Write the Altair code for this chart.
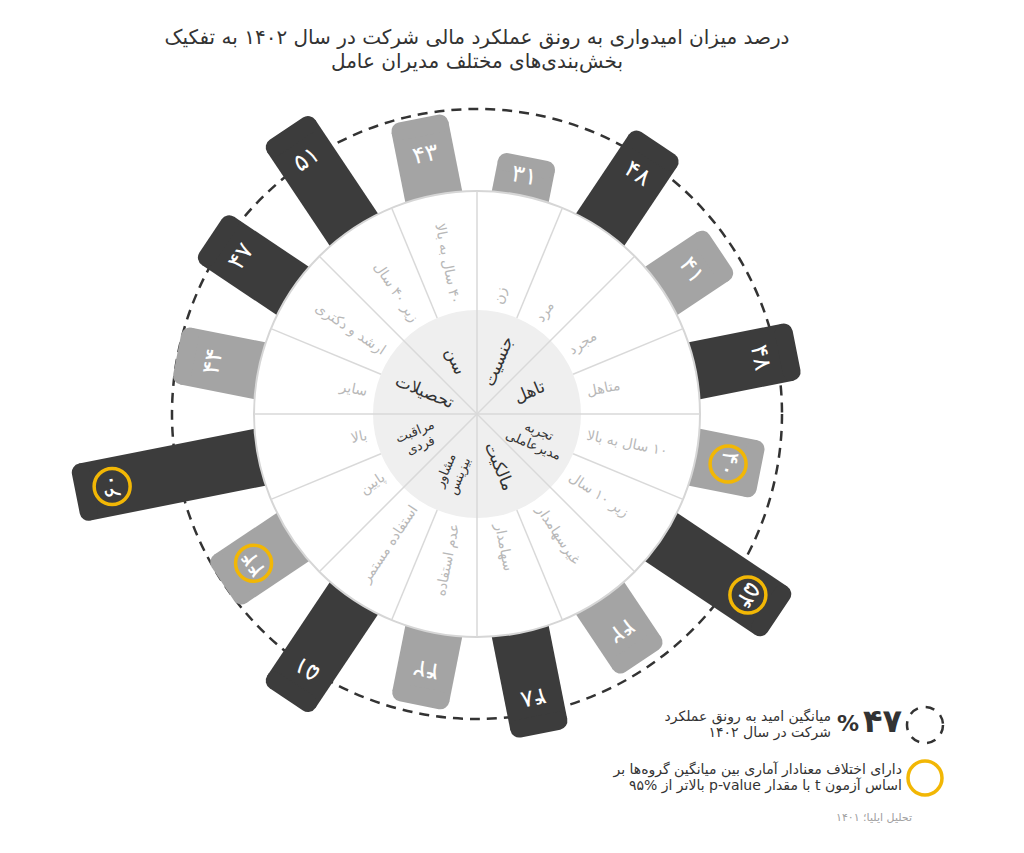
import altair as alt
import pandas as pd

# ---------------- data ----------------
categories = ["زن", "مرد", "مجرد", "متاهل", "۱۰ سال به بالا", "زیر ۱۰ سال",
              "غیرسهامدار", "سهامدار", "عدم استفاده", "استفاده مستمر",
              "پایین", "بالا", "سایر", "ارشد و دکتری", "زیر ۴۰ سال", "۴۰ سال به بالا"]
groups = ["جنسیت", "تاهل", "تجربه\nمدیرعاملی", "مالکیت",
          "مشاور\nبیزینس", "مراقبت\nفردی", "تحصیلات", "سن"]
values = [31, 48, 41, 48, 40, 54, 42, 48, 42, 51, 44, 60, 44, 47, 51, 43]
significant = [False, False, False, False, True, True, False, False,
               False, False, True, True, False, False, False, False]
MEAN = 47

title_lines = ["درصد میزان امیدواری به رونق عملکرد مالی شرکت در سال ۱۴۰۲ به تفکیک",
               "بخش‌بندی‌های مختلف مدیران عامل"]
legend_mean_lines = ["میانگین امید به رونق عملکرد", "شرکت در سال ۱۴۰۲"]
legend_sig_lines = ["دارای اختلاف معنادار آماری بین میانگین گروه‌ها بر",
                    "اساس آزمون t با مقدار p-value بالاتر از %۹۵"]
source_text = "تحلیل ایلیا؛ ۱۴۰۱"

FA = str.maketrans("0123456789", "۰۱۲۳۴۵۶۷۸۹")


def rtl(s):
    return "\u202b" + s + "\u202c"


# ---------------- layout / style ----------------
W, H = 1008, 837
CX, CY = 469, 406
R_IN, R_RING, R_MEAN = 104, 223, 305
BAR_W, RC = 58, 9
L0, L1 = 39, 186          # bar length beyond ring for min / max value (pow-3 scale)
FONT = "DejaVu Sans"
DARK, LIGHT, YELLOW = "#3c3c3c", "#a4a4a4", "#f2b705"
GROUP_LH = 15

N = len(categories)
STEP = 360 / N
V0, V1 = min(values), max(values)

bars = pd.DataFrame({
    "idx": list(range(N)),
    "cat": [rtl(c) for c in categories],
    "value": values,
    "sig": significant,
    "group": [i // 2 for i in range(N)],
})
gmax = bars.groupby("group")["value"].transform("max")
bars["shade"] = ["dark" if v == m else "light" for v, m in zip(bars["value"], gmax)]
bars["label"] = [str(v).translate(FA) for v in values]

grp = pd.DataFrame({
    "gidx": list(range(len(groups))),
    "g": [rtl(g) for g in groups],
    "nl": [g.count("\n") for g in groups],
    "fs": [13 if "\n" in g else 17 for g in groups],
    "gr": [64 if "\n" in g else 57 for g in groups],
})
divs = pd.DataFrame({"k": list(range(N))})
center = pd.DataFrame({"x": [CX], "y": [CY]})

xs = alt.Scale(domain=[0, W], nice=False, zero=False)
ys = alt.Scale(domain=[0, H], nice=False, zero=False, reverse=True)


def X(f):
    return alt.X(f, type="quantitative", scale=xs, axis=None)


def Y(f):
    return alt.Y(f, type="quantitative", scale=ys, axis=None)


shade_color = alt.Color("shade:N", scale=alt.Scale(domain=["dark", "light"], range=[DARK, LIGHT]), legend=None)

rout = (f"{R_RING} + {L0} + {L1 - L0} * (pow(datum.value, 3) - {V0 ** 3}) / {V1 ** 3 - V0 ** 3}")

bar_base = alt.Chart(bars).transform_calculate(
    theta=f"(datum.idx + 0.5) * {STEP}",
).transform_calculate(
    rad="datum.theta * PI / 180",
    rout=rout,
).transform_calculate(
    s="sin(datum.rad)", c="cos(datum.rad)",
    re=f"datum.rout - {RC}",
).transform_calculate(
    bx1=f"{CX} + 200 * datum.s", by1=f"{CY} - 200 * datum.c",
    bx2=f"{CX} + datum.re * datum.s", by2=f"{CY} - datum.re * datum.c",
    ax=f"{CX} + datum.re * datum.s + {BAR_W / 2 - RC} * datum.c",
    ay=f"{CY} - datum.re * datum.c + {BAR_W / 2 - RC} * datum.s",
    cx2=f"{CX} + datum.re * datum.s - {BAR_W / 2 - RC} * datum.c",
    cy2=f"{CY} - datum.re * datum.c - {BAR_W / 2 - RC} * datum.s",
    rt=f"max(({R_RING} + datum.rout) / 2, datum.rout - 37)",
    lx=f"{CX} + 112 * datum.s", ly=f"{CY} - 112 * datum.c",
    langle="datum.theta < 180 ? (datum.theta + 270) % 360 : (datum.theta + 90) % 360",
).transform_calculate(
    tx=f"{CX} + datum.rt * datum.s", ty=f"{CY} - datum.rt * datum.c",
)

mean_ring = alt.Chart(center).mark_point(
    shape="circle", size=(2 * R_MEAN) ** 2, filled=False, stroke="#333333",
    strokeWidth=2.5, strokeDash=[10, 7], opacity=1
).encode(x=X("x"), y=Y("y"))

bar_body = bar_base.mark_rule(strokeWidth=BAR_W, strokeCap="butt").encode(
    x=X("bx1"), y=Y("by1"), x2=alt.X2("bx2"), y2=alt.Y2("by2"), color=shade_color)

bar_cap = bar_base.mark_rule(strokeWidth=2 * RC, strokeCap="round").encode(
    x=X("ax"), y=Y("ay"), x2=alt.X2("cx2"), y2=alt.Y2("cy2"), color=shade_color)

ring = alt.Chart(center).mark_point(
    shape="circle", size=(2 * R_RING) ** 2, filled=True, fill="white",
    stroke="#d6d6d6", strokeWidth=2, opacity=1
).encode(x=X("x"), y=Y("y"))

inner = alt.Chart(center).mark_point(
    shape="circle", size=(2 * R_IN) ** 2, filled=True, fill="#efefef",
    strokeWidth=0, opacity=1
).encode(x=X("x"), y=Y("y"))

dividers = alt.Chart(divs).transform_calculate(
    rad=f"datum.k * {STEP} * PI / 180",
    r0=f"datum.k % 2 == 0 ? 0 : {R_IN}",
).transform_calculate(
    x1=f"{CX} + datum.r0 * sin(datum.rad)", y1=f"{CY} - datum.r0 * cos(datum.rad)",
    x2=f"{CX} + {R_RING} * sin(datum.rad)", y2=f"{CY} - {R_RING} * cos(datum.rad)",
).mark_rule(color="#d9d9d9", strokeWidth=1.5).encode(
    x=X("x1"), y=Y("y1"), x2=alt.X2("x2"), y2=alt.Y2("y2"))

cat_right = bar_base.transform_filter("datum.theta < 180").mark_text(
    font=FONT, fontSize=14, color="#b8b8b8", align="left", baseline="middle"
).encode(x=X("lx"), y=Y("ly"), text="cat:N", angle=alt.Angle("langle:Q", scale=None))

cat_left = bar_base.transform_filter("datum.theta >= 180").mark_text(
    font=FONT, fontSize=14, color="#b8b8b8", align="right", baseline="middle"
).encode(x=X("lx"), y=Y("ly"), text="cat:N", angle=alt.Angle("langle:Q", scale=None))

group_lbl = alt.Chart(grp).transform_calculate(
    theta="(datum.gidx + 0.5) * 45",
).transform_calculate(
    rad="datum.theta * PI / 180",
    gangle="datum.theta < 180 ? (datum.theta + 270) % 360 : (datum.theta + 90) % 360",
).transform_calculate(
    ga="datum.gangle * PI / 180",
    off=f"datum.nl * {GROUP_LH / 2}",
).transform_calculate(
    gx=f"{CX} + datum.gr * sin(datum.rad) + datum.off * sin(datum.ga)",
    gy=f"{CY} - datum.gr * cos(datum.rad) - datum.off * cos(datum.ga)",
).mark_text(
    font=FONT, color="#333333", align="center", baseline="middle",
    lineBreak="\n", lineHeight=GROUP_LH
).encode(x=X("gx"), y=Y("gy"), text="g:N", size=alt.Size("fs:Q", scale=None),
         angle=alt.Angle("gangle:Q", scale=None))

bar_text = bar_base.mark_text(
    font=FONT, fontSize=24, color="white", align="center", baseline="middle"
).encode(x=X("tx"), y=Y("ty"), text="label:N", angle=alt.Angle("theta:Q", scale=None))

sig_ring = bar_base.transform_filter("datum.sig").mark_point(
    shape="circle", size=36 ** 2, filled=False, stroke=YELLOW, strokeWidth=3.5, opacity=1
).encode(x=X("tx"), y=Y("ty"))

# ---------------- title & legend ----------------
title_df = pd.DataFrame({"x": [CX, CX], "y": [30, 54], "t": [rtl(t) for t in title_lines]})
title = alt.Chart(title_df).mark_text(
    font=FONT, fontSize=20, color="#333333", align="center", baseline="middle"
).encode(x=X("x"), y=Y("y"), text="t:N")

mean_icon = alt.Chart(pd.DataFrame({"x": [917], "y": [717]})).mark_point(
    shape="circle", size=36 ** 2, filled=False, stroke="#333333", strokeWidth=2.5,
    strokeDash=[9, 8], opacity=1
).encode(x=X("x"), y=Y("y"))
sig_icon = alt.Chart(pd.DataFrame({"x": [917], "y": [770]})).mark_point(
    shape="circle", size=34 ** 2, filled=False, stroke=YELLOW, strokeWidth=3.5, opacity=1
).encode(x=X("x"), y=Y("y"))

mean_num = alt.Chart(pd.DataFrame({"x": [894], "y": [714], "t": [str(MEAN).translate(FA)]})).mark_text(
    font=FONT, fontSize=32, fontWeight="bold", color="#333333", align="right", baseline="middle"
).encode(x=X("x"), y=Y("y"), text="t:N")
mean_pct = alt.Chart(pd.DataFrame({"x": [851], "y": [716], "t": ["%"]})).mark_text(
    font=FONT, fontSize=22, fontWeight="bold", color="#333333", align="right", baseline="middle"
).encode(x=X("x"), y=Y("y"), text="t:N")

leg_df = pd.DataFrame({
    "x": [823, 823, 894, 894],
    "y": [709, 725, 762, 778],
    "t": [rtl(t) for t in legend_mean_lines + legend_sig_lines],
})
leg_text = alt.Chart(leg_df).mark_text(
    font=FONT, fontSize=14, color="#333333", align="right", baseline="middle"
).encode(x=X("x"), y=Y("y"), text="t:N")

src = alt.Chart(pd.DataFrame({"x": [904], "y": [810], "t": [rtl(source_text)]})).mark_text(
    font=FONT, fontSize=11, color="#a0a0a0", align="right", baseline="middle"
).encode(x=X("x"), y=Y("y"), text="t:N")

chart = alt.layer(
    mean_ring, bar_body, bar_cap, ring, inner, dividers,
    cat_right, cat_left, group_lbl, bar_text, sig_ring,
    title, mean_icon, sig_icon, mean_num, mean_pct, leg_text, src
).properties(width=W, height=H, padding=0, background="white").configure_view(stroke=None)

chart.save("out.html", embed_options={"renderer": "svg", "actions": False})
